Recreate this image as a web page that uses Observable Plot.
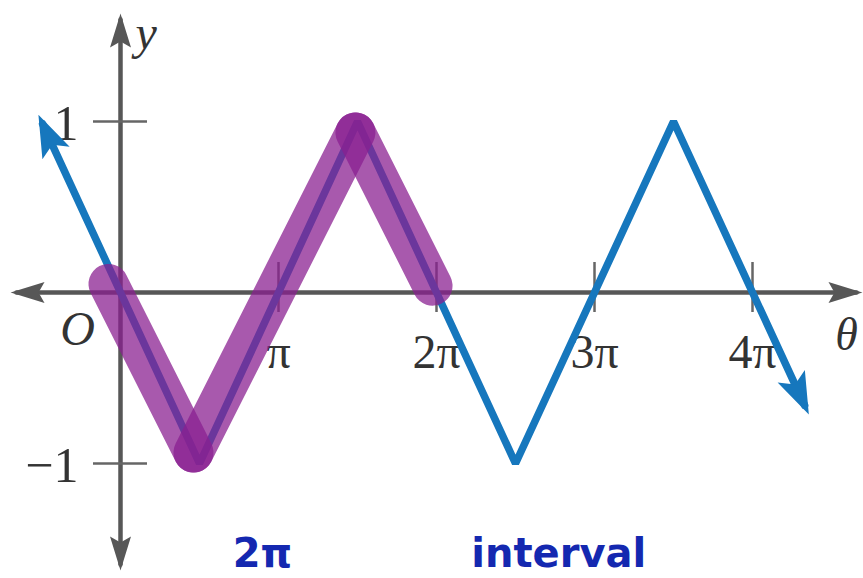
<!DOCTYPE html>
<html><head><meta charset="utf-8">
<script src="https://cdn.jsdelivr.net/npm/d3@7"></script>
<script src="https://cdn.jsdelivr.net/npm/@observablehq/plot@0.6"></script>
<style>body{margin:0;background:#fff;overflow:hidden}</style>
</head><body><div id="chart"></div>
<script>
// θ values are in units of π
const blueTheta = [-0.493, 0.5, 1.5, 2.5, 3.5, 4.33];
const blueY = [0.986, -1, 1, -1, 1, -0.66];
const purpleTheta = [-0.076, 0.462, 1.487, 1.975];
const purpleY = [0.05, -0.936, 0.936, 0.04];
const xTickValues = [1, 2, 3, 4];
const xTickLabels = ["π", "2π", "3π", "4π"];
const yTickValues = [1, -1];
const yTickLabels = ["1", "−1"];
const xAxisEnds = [-0.658, 4.658];
const yAxisEnds = [1.596, -1.591];
const noteTheta = [0.71, 2.22];
const noteText = ["2π", "interval"];

function arrowhead(len, wid, notch, over) {
  return (color) => {
    const ns = "http://www.w3.org/2000/svg";
    const m = document.createElementNS(ns, "marker");
    m.setAttribute("markerUnits", "userSpaceOnUse");
    m.setAttribute("orient", "auto-start-reverse");
    m.setAttribute("overflow", "visible");
    m.setAttribute("markerWidth", 1);
    m.setAttribute("markerHeight", 1);
    m.setAttribute("refX", 0);
    m.setAttribute("refY", 0);
    const p = document.createElementNS(ns, "path");
    p.setAttribute("d", `M${over},0L${over - len},${-wid / 2}L${over - len + notch},0L${over - len},${wid / 2}Z`);
    p.setAttribute("fill", color);
    p.setAttribute("stroke", "none");
    m.appendChild(p);
    return m;
  };
}
const axisHead = arrowhead(34, 21, 6, 6);
const blueHead = arrowhead(42, 30, 9, 10);

const blueData = blueTheta.map((t, i) => ({t, y: blueY[i]}));
const purpleSegs = d3.range(purpleTheta.length - 1).map(i => ({
  t1: purpleTheta[i], y1: purpleY[i], t2: purpleTheta[i + 1], y2: purpleY[i + 1]
}));
const xAxisPts = xAxisEnds.map(t => ({t, y: 0}));
const yAxisPts = yAxisEnds.map(y => ({t: 0, y}));
const xTicks = xTickValues.map((t, i) => ({t, label: xTickLabels[i]}));
const yTicks = yTickValues.map((y, i) => ({y, label: yTickLabels[i]}));
const notes = noteTheta.map((t, i) => ({t, label: noteText[i]}));

const serif = "Liberation Serif, Times New Roman, serif";
const gray = "#575757";

const chart = Plot.plot({
  width: 863, height: 578,
  marginTop: 0, marginRight: 0, marginBottom: 0, marginLeft: 0,
  x: {domain: [-0.7595, 4.7025], axis: null},
  y: {domain: [-1.6725, 1.7076], axis: null},
  style: {background: "#fff", overflow: "hidden"},
  marks: [
    Plot.line(xAxisPts, {x: "t", y: "y", stroke: gray, strokeWidth: 4.5, markerStart: axisHead, markerEnd: axisHead}),
    Plot.line(yAxisPts, {x: "t", y: "y", stroke: gray, strokeWidth: 4.5, markerStart: axisHead, markerEnd: axisHead}),
    Plot.ruleX(xTicks, {x: "t", y1: 0, y2: 0, insetTop: -30, insetBottom: -20, stroke: "#666", strokeWidth: 2.5}),
    Plot.ruleY(yTicks, {y: "y", x1: 0, x2: 0, insetLeft: -27, insetRight: -27, stroke: "#666", strokeWidth: 2.5}),
    Plot.text(xTicks, {x: "t", y: 0, text: "label", dy: 60, fontSize: 48, fontFamily: serif, fill: "#333", textAnchor: "middle", lineAnchor: "middle"}),
    Plot.text(yTicks, {x: 0, y: "y", text: "label", dx: -42, dy: 2, fontSize: 50, fontFamily: serif, fill: "#333", textAnchor: "end", lineAnchor: "middle"}),
    Plot.text(["O"], {x: 0, y: 0, text: d => d, dx: -43, dy: 37, fontSize: 48, fontStyle: "italic", fontFamily: serif, fill: "#333", textAnchor: "middle", lineAnchor: "middle"}),
    Plot.text(["y"], {x: 0, y: yAxisEnds[0], text: d => d, dx: 15, dy: 14, fontSize: 48, fontStyle: "italic", fontFamily: serif, fill: "#333", textAnchor: "start", lineAnchor: "middle"}),
    Plot.text(["θ"], {x: xAxisEnds[1], y: 0, text: d => d, dx: -10, dy: 43, fontSize: 46, fontStyle: "italic", fontFamily: serif, fill: "#333", textAnchor: "middle", lineAnchor: "middle"}),
    Plot.line(blueData, {x: "t", y: "y", stroke: "#1677bd", strokeWidth: 7.5, strokeLinejoin: "miter", markerStart: blueHead, markerEnd: blueHead}),
    Plot.link(purpleSegs, {x1: "t1", y1: "y1", x2: "t2", y2: "y2", stroke: "#8a1f91", strokeOpacity: 0.74, strokeWidth: 40, strokeLinecap: "round"}),
    Plot.text(notes, {x: "t", frameAnchor: "bottom", text: "label", dy: -12, fontSize: 40, fontWeight: "bold", fontFamily: "DejaVu Sans, sans-serif", fill: "#1428b0", textAnchor: "start", lineAnchor: "bottom", letterSpacing: 5})
  ]
});
document.getElementById("chart").appendChild(chart);
</script>
</body></html>
